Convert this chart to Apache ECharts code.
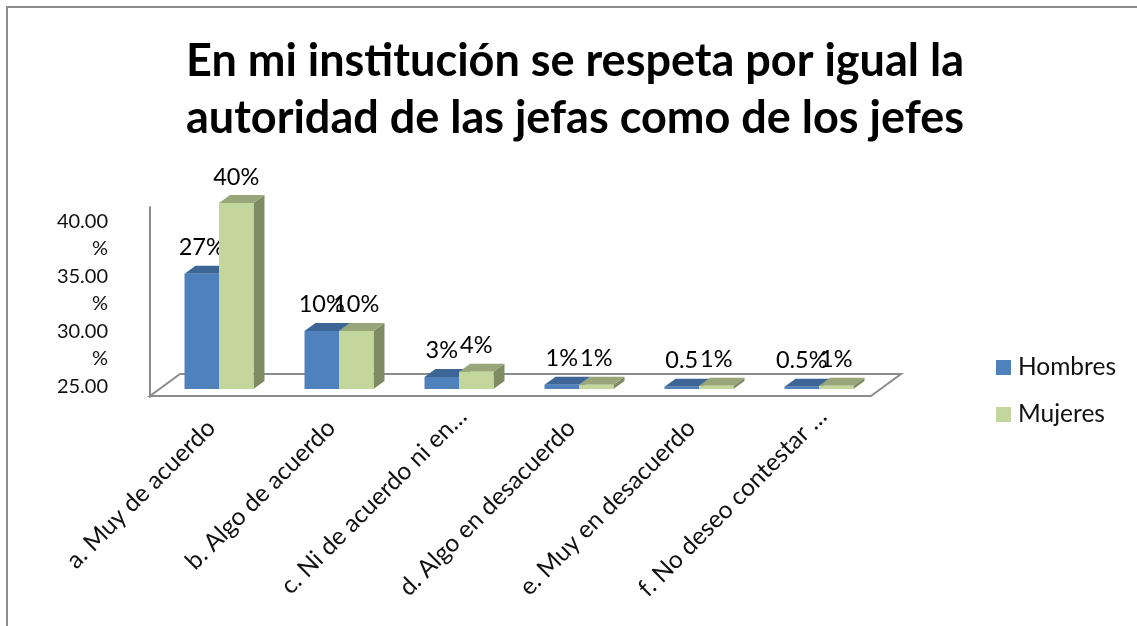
<!DOCTYPE html>
<html><head><meta charset="utf-8">
<style>html,body{margin:0;padding:0;background:#fff}#c{width:1137px;height:626px}</style>
<script src="https://cdn.jsdelivr.net/npm/echarts@6/dist/echarts.min.js"></script>
</head><body><div id="c"></div>
<script>
const categories = ['a. Muy de acuerdo','b. Algo de acuerdo','c. Ni de acuerdo ni en…','d. Algo en desacuerdo','e. Muy en desacuerdo','f. No deseo contestar …'];
const truncated = [2,5];
const hombres = [24.8,12.5,2.6,0.9,0.5,0.5];
const mujeres = [40,12.5,3.7,0.9,0.7,0.7];
const hombresLabels = ['27%','10%','3%','1%','0.5','0.5%'];
const mujeresLabels = ['40%','10%','4%','1%','1%','1%'];
const tickValues = [25,30,35,40];
const FONT = 'Lato, "Open Sans", sans-serif';
const DX = 11, DY = -8;

function barRender(side, front, top, sideCol, labels){
  return function(params, api){
    const i = api.value(0), v = api.value(1);
    const base = api.coord([i,0]), head = api.coord([i,v]);
    const band = api.size([1,0])[0], w = band*0.2875;
    const x0 = side === 0 ? base[0]-w : base[0], x1 = x0+w;
    const yb = base[1], yt = head[1];
    return {type:'group',children:[
      {type:'polygon',shape:{points:[[x1,yb],[x1+DX,yb+DY],[x1+DX,yt+DY],[x1,yt]]},style:{fill:sideCol}},
      {type:'polygon',shape:{points:[[x0,yt],[x0+DX,yt+DY],[x1+DX,yt+DY],[x1,yt]]},style:{fill:top}},
      {type:'rect',shape:{x:x0,y:yt,width:w,height:yb-yt},style:{fill:front}},
      {type:'text',z2:20,style:{text:labels[i],x:(x0+x1)/2,y:yt+DY-18,align:'center',verticalAlign:'middle',font:'23.5px '+FONT,fill:'#000'}}
    ]};
  };
}
function floorRender(params, api){
  const a = api.coord([0,0]), band = api.size([1,0])[0];
  const left = a[0]-band/2-9, right = left+band*categories.length+1, y = a[1]+7;
  return {type:'polygon',shape:{points:[[left,y],[right,y],[right+30,y-22],[left+30,y-22]]},
    style:{fill:'#fff',stroke:'#8c8c8c',lineWidth:2}};
}
const chart = echarts.init(document.getElementById('c'),null,{renderer:'canvas'});
chart.setOption({
  animation:false,
  backgroundColor:'#fff',
  title:{text:'En mi institución se respeta por igual la\nautoridad de las jefas como de los jefes',left:570,top:28,textAlign:'center',
    textStyle:{fontFamily:FONT,fontWeight:'bold',fontSize:45,lineHeight:57,color:'#000'}},
  legend:{orient:'vertical',left:991,top:350,itemWidth:15,itemHeight:15,itemGap:22,icon:'rect',
    data:['Hombres','Mujeres'],textStyle:{fontFamily:FONT,fontSize:24.5,color:'#111',padding:[0,0,0,2]}},
  graphic:[{type:'polyline',silent:true,z:-1,shape:{points:[[7,626],[7,7],[1137,7]]},style:{fill:'none',stroke:'#8c8c8c',lineWidth:2}}],
  grid:[
    {left:159,top:203,width:720,height:186},
    {left:150,top:207,width:721,height:190},
    {left:150,top:210,width:721,height:190}
  ],
  xAxis:[
    {type:'category',gridIndex:0,
     data:categories.map((c,i)=>truncated.includes(i)?{value:c,textStyle:{padding:[0,-5,0,0]}}:c),
     axisLine:{show:false},axisTick:{show:false},
     axisLabel:{interval:0,rotate:45,margin:27,padding:[0,11,0,0],fontFamily:FONT,fontSize:24.5,color:'#111'}},
    {type:'category',gridIndex:1,show:false,data:categories},
    {type:'category',gridIndex:2,show:false,data:categories}
  ],
  yAxis:[
    {type:'value',gridIndex:0,min:0,max:40,show:false},
    {type:'value',gridIndex:1,min:25,max:40,axisLine:{show:true,lineStyle:{color:'#8c8c8c',width:2}},
     axisTick:{show:false},splitLine:{show:false},axisLabel:{show:false}},
    {type:'value',gridIndex:2,min:25,max:42.27,interval:5,
     axisLine:{show:false},axisTick:{show:false},splitLine:{show:false},
     axisLabel:{showMaxLabel:false,showMinLabel:true,hideOverlap:false,margin:42,align:'right',fontFamily:FONT,fontSize:20,lineHeight:27,color:'#111',
       formatter:v=>tickValues.includes(v)?(v.toFixed(2)+(v===25?'\n ':'\n%')):''}}
  ],
  series:[
    {type:'custom',name:'floor',silent:true,z:1,xAxisIndex:0,yAxisIndex:0,data:[[0,0]],renderItem:floorRender},
    {type:'custom',name:'Hombres',z:2,xAxisIndex:0,yAxisIndex:0,itemStyle:{color:'#4f81bd'},
      data:hombres.map((v,i)=>[i,v]),renderItem:barRender(0,'#4f81bd','#3d6596','#3d6596',hombresLabels)},
    {type:'custom',name:'Mujeres',z:3,xAxisIndex:0,yAxisIndex:0,itemStyle:{color:'#c3d69b'},
      data:mujeres.map((v,i)=>[i,v]),renderItem:barRender(1,'#c3d69b','#98a67a','#7f8b63',mujeresLabels)}
  ]
});
</script></body></html>
